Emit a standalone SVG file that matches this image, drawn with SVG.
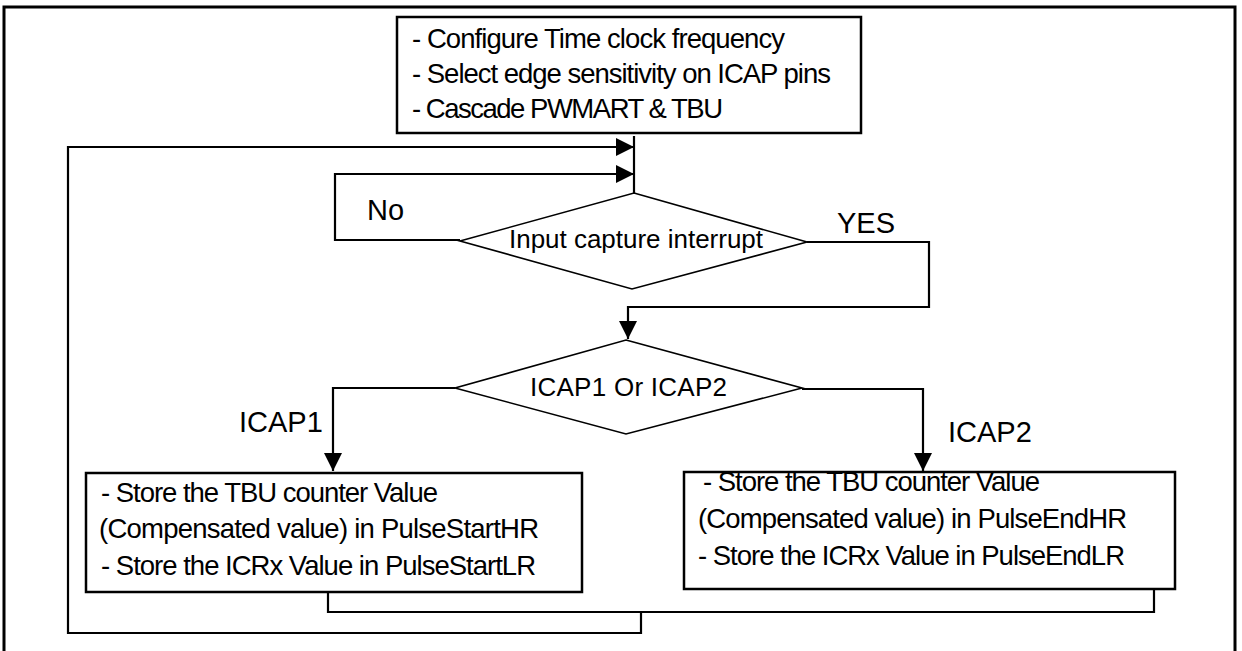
<svg xmlns="http://www.w3.org/2000/svg" width="1242" height="651" viewBox="0 0 1242 651">
  <style>
    .frame { fill: none; stroke: #000; stroke-width: 3; }
    .box { fill: #fff; stroke: #000; stroke-width: 2.5; }
    .dia { fill: #fff; stroke: #000; stroke-width: 1.6; }
    .wire { fill: none; stroke: #000; stroke-width: 2.2; }
    .txt { font-family: "Liberation Sans", Arial, sans-serif; font-size: 27.5px; fill: #000; }
    .dtxt { font-family: "Liberation Sans", Arial, sans-serif; font-size: 26px; fill: #000; }
    .lbl { font-family: "Liberation Sans", Arial, sans-serif; font-size: 29px; fill: #000; }
  </style>
  <defs>
    <marker id="arrow" viewBox="0 0 18 18" refX="18" refY="9" markerWidth="18" markerHeight="18" markerUnits="userSpaceOnUse" orient="auto">
      <path d="M0,0 L18,9 L0,18 Z" fill="#000"/>
    </marker>
  </defs>

  <rect width="1242" height="651" fill="#fff"/>
  <!-- outer frame, open at the bottom edge -->
  <rect class="frame" x="4" y="7" width="1231" height="660"/>

  <g id="connectors">
    <!-- stem from setup box to first decision -->
    <path class="wire" d="M634,136 L634,193"/>
    <!-- outer loop back to the top -->
    <path class="wire" d="M641,612 L641,633 L68,633 L68,147 L634,147" marker-end="url(#arrow)"/>
    <!-- No loop -->
    <path class="wire" d="M460,240 L335,240 L335,174 L634,174" marker-end="url(#arrow)"/>
    <!-- YES path to second decision -->
    <path class="wire" d="M807,242 L929,242 L929,307 L628,307 L628,339" marker-end="url(#arrow)"/>
    <!-- ICAP1 branch -->
    <path class="wire" d="M455,388 L333,388 L333,471" marker-end="url(#arrow)"/>
    <!-- ICAP2 branch -->
    <path class="wire" d="M802,389 L923,389 L923,471" marker-end="url(#arrow)"/>
    <!-- merge of both store boxes -->
    <path class="wire" d="M328,592 L328,612 L1154,612 L1154,589"/>
  </g>

  <g id="setup">
    <rect class="box" x="397" y="17" width="464" height="116"/>
    <text class="txt" x="412" y="48" textLength="373" lengthAdjust="spacing">- Configure Time clock frequency</text>
    <text class="txt" x="412" y="83" textLength="419" lengthAdjust="spacing">- Select edge sensitivity on ICAP pins</text>
    <text class="txt" x="412" y="118" textLength="311" lengthAdjust="spacing">- Cascade PWMART &amp; TBU</text>
  </g>

  <g id="capture-decision">
    <polygon class="dia" points="634,193 807,242 632,289 460,241"/>
    <text class="dtxt" x="509" y="248" textLength="254" lengthAdjust="spacing">Input capture interrupt</text>
  </g>

  <g id="icap-decision">
    <polygon class="dia" points="626,340 802,388 626,434 455,388"/>
    <text class="dtxt" x="530" y="396" textLength="197" lengthAdjust="spacing">ICAP1 Or ICAP2</text>
  </g>

  <g id="store-start">
    <rect class="box" x="86" y="473" width="496" height="119"/>
    <text class="txt" x="101" y="502" textLength="337" lengthAdjust="spacing">- Store the TBU counter Value</text>
    <text class="txt" x="99" y="538" textLength="440" lengthAdjust="spacing">(Compensated value) in PulseStartHR</text>
    <text class="txt" x="101" y="575" textLength="435" lengthAdjust="spacing">- Store the ICRx Value in PulseStartLR</text>
  </g>

  <g id="store-end">
    <rect class="box" x="684" y="472" width="491" height="117"/>
    <text class="txt" x="703" y="491" textLength="337" lengthAdjust="spacing">- Store the TBU counter Value</text>
    <text class="txt" x="698" y="528" textLength="429" lengthAdjust="spacing">(Compensated value) in PulseEndHR</text>
    <text class="txt" x="698" y="565" textLength="427" lengthAdjust="spacing">- Store the ICRx Value in PulseEndLR</text>
  </g>

  <g id="labels">
    <text class="lbl" x="367" y="220">No</text>
    <text class="lbl" x="837" y="233">YES</text>
    <text class="lbl" x="239" y="432">ICAP1</text>
    <text class="lbl" x="948" y="442">ICAP2</text>
  </g>
</svg>
